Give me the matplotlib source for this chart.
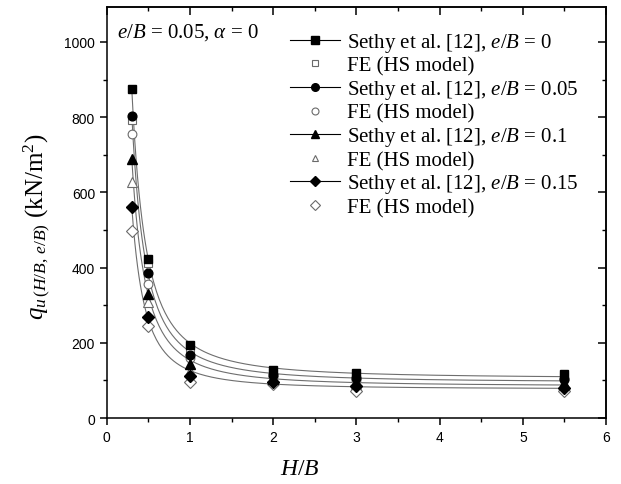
import matplotlib
matplotlib.use('Agg')
import matplotlib.pyplot as plt
import numpy as np
from matplotlib.lines import Line2D
from matplotlib.ticker import MultipleLocator

plt.rcParams['font.family'] = 'Liberation Sans'
plt.rcParams['mathtext.fontset'] = 'custom'
plt.rcParams['mathtext.rm'] = 'Liberation Serif'
plt.rcParams['mathtext.it'] = 'Liberation Serif:italic'

# H/B values
hb = [0.3, 0.5, 1, 2, 3, 5.5]

# Sethy et al. [12] (filled markers)
sethy_0 = [875, 423, 194, 128, 121, 116]
sethy_005 = [804, 387, 168, 115, 106, 105]
sethy_01 = [689, 330, 144, 105, 95, 93]
sethy_015 = [560, 268, 113, 95, 85, 80]

# FE (HS model) (open markers)
fe_0 = [792, 412, 186, 120, 113, 111]
fe_005 = [754, 356, 160, 110, 101, 100]
fe_01 = [628, 309, 126, 100, 90, 88]
fe_015 = [497, 245, 96, 90, 73, 73]

ebs = ['0', '0.05', '0.1', '0.15']
markers = ['s', 'o', '^', 'D']
msizes = [6, 6.3, 6.8, 6.5]


def fit_curve(x, y):
    # least squares fit y = a + b * x^-p, p picked from a grid
    x = np.asarray(x, float)
    y = np.asarray(y, float)
    best = None
    for p in np.arange(0.5, 4.01, 0.05):
        A = np.column_stack([np.ones_like(x), x ** -p])
        coef = np.linalg.lstsq(A, y, rcond=None)[0]
        err = np.sum((A @ coef - y) ** 2)
        if best is None or err < best[0]:
            best = (err, p, coef)
    _, p, (a, b) = best
    xs = np.linspace(x.min(), x.max(), 300)
    return xs, a + b * xs ** -p


fig = plt.figure(figsize=(6.21, 4.85), dpi=100)
ax = fig.add_axes([0.172, 0.136, 0.804, 0.8475])

sethy = [sethy_0, sethy_005, sethy_01, sethy_015]
fe = [fe_0, fe_005, fe_01, fe_015]

for s, f, m, ms in zip(sethy, fe, markers, msizes):
    xs, ys = fit_curve(hb, s)
    ax.plot(xs, ys, color='#6e6e6e', lw=0.8, zorder=2)
    ax.plot(hb, f, linestyle='none', marker=m, ms=ms, mfc='white',
            mec='#6a6a6a', mew=0.8, zorder=3)
    ax.plot(hb, s, linestyle='none', marker=m, ms=ms, color='black', zorder=4)

handles = []
labels = []
for eb, m in zip(ebs, markers):
    handles.append(Line2D([], [], color='black', lw=0.8, marker=m, ms=5.5))
    labels.append('Sethy et al. [12], $e/B$ = ' + eb)
    handles.append(Line2D([], [], linestyle='none', marker=m, ms=5,
                          mfc='white', mec='#6a6a6a', mew=0.8))
    labels.append('FE (HS model)')

leg = ax.legend(handles, labels, loc='upper left', bbox_to_anchor=(0.367, 0.942),
                frameon=False, borderpad=0, handlelength=2.4, handletextpad=0.34,
                labelspacing=0.11, borderaxespad=0,
                prop={'family': 'Liberation Serif', 'size': 15})

ax.text(0.02, 0.965, '$e/B$ = 0.05, $\\alpha$ = 0', transform=ax.transAxes,
        ha='left', va='top', fontsize=15, family='Liberation Serif')

ax.set_xlim(0, 6)
ax.set_ylim(0, 1093)
ax.xaxis.set_major_locator(MultipleLocator(1))
ax.xaxis.set_minor_locator(MultipleLocator(0.5))
ax.yaxis.set_major_locator(MultipleLocator(200))
ax.yaxis.set_minor_locator(MultipleLocator(100))
ax.tick_params(which='major', direction='out', length=5, width=1.1, labelsize=10)
ax.tick_params(which='minor', direction='out', length=3, width=1.0)

# top and right ticks point inward
top = ax.secondary_xaxis('top')
top.xaxis.set_major_locator(MultipleLocator(1))
top.xaxis.set_minor_locator(MultipleLocator(0.5))
top.tick_params(which='major', direction='in', length=6, width=1.1, labeltop=False)
top.tick_params(which='minor', direction='in', length=3, width=1.0)
right = ax.secondary_yaxis('right')
right.yaxis.set_major_locator(MultipleLocator(200))
right.yaxis.set_minor_locator(MultipleLocator(100))
right.tick_params(which='major', direction='in', length=6, width=1.1, labelright=False)
right.tick_params(which='minor', direction='in', length=3, width=1.0)
for sp in list(ax.spines.values()) + [top.spines['top'], right.spines['right']]:
    sp.set_linewidth(1.1)

ax.set_xlabel('$H/B$', fontsize=17)
ax.xaxis.set_label_coords(0.387, -0.095)
ax.set_ylabel('$q_{u\\,(H/B,\\,e/B)}$ (kN/m$^2$)', fontsize=18, family='Liberation Serif')
ax.yaxis.set_label_coords(-0.11, 0.467)

fig.savefig('out.png', dpi=100)
